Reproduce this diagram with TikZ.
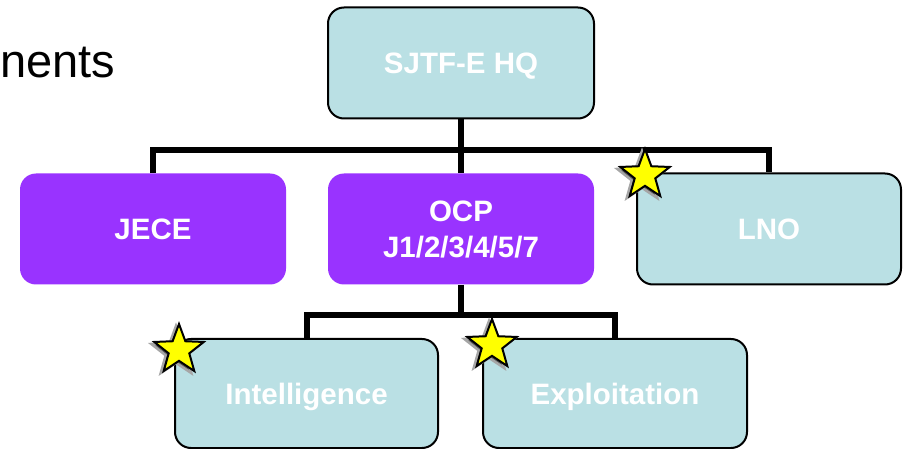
\documentclass[tikz,border=0pt]{standalone}
\usepackage{fontspec}
\setmainfont{Liberation Sans}
\usetikzlibrary{shapes.geometric,backgrounds}
\definecolor{boxcyan}{RGB}{186,224,228}
\definecolor{boxpurple}{RGB}{153,51,255}
\definecolor{staryellow}{RGB}{255,255,0}
\tikzset{
  unitbox/.style={rectangle, rounded corners=16pt, minimum width=266pt, minimum height=111pt,
    text=white, font=\bfseries\fontsize{29.5}{36}\selectfont, align=center, inner sep=0pt,
    text height=21pt, text depth=0pt},
  cyanbox/.style={unitbox, fill=boxcyan, draw=black, line width=2pt},
  purplebox/.style={unitbox, fill=boxpurple, draw=none},
  link/.style={draw=black, line width=6pt},
  starmark/.style={star, star points=5, star point ratio=2.4, minimum size=52pt, inner sep=0pt},
  starshade/.style={starmark, fill=black!65, draw=black!35, line width=2.5pt},
  starfront/.style={starmark, fill=staryellow, draw=black, line width=2pt},
}
\begin{document}
\begin{tikzpicture}[x=1pt,y=-1pt]
\useasboundingbox (0,0) rectangle (906,449);
% text at top left
\node[anchor=base west, inner sep=0pt, font=\fontsize{47}{56}\selectfont] (hdr) at (0,78) {nents};
% boxes
\node[cyanbox] (hq) at (461,63) {SJTF-E HQ};
\node[purplebox] (jece) at (153,229) {JECE};
\node[purplebox, text height=57pt] (ocp) at (461,229) {OCP\\[0pt]J1/2/3/4/5/7};
\node[cyanbox, minimum width=264pt] (lno) at (769,229) {LNO};
\node[cyanbox, minimum width=263pt, minimum height=109pt] (intel) at (306.5,393.5) {Intelligence};
\node[cyanbox, minimum width=264pt, minimum height=109pt] (expl) at (615,393.5) {Exploitation};
% connectors
\coordinate (b1) at (461,150);
\coordinate (b2) at (461,315);
\begin{scope}[on background layer]
\draw[link] (hq.south) -- (b1);
\draw[link] (jece.north) |- (b1) -| (lno.north);
\draw[link] (b1) -- (ocp.north);
\draw[link] (ocp.south) -- (b2);
\draw[link] (intel.north) |- (b2) -| (expl.north);
\end{scope}
% stars
\node[starshade] (s1s) at (642,177) {};
\node[starfront] (s1) at (645,175) {};
\node[starshade] (s2s) at (176,352) {};
\node[starfront] (s2) at (179,350) {};
\node[starshade] (s3s) at (489,347) {};
\node[starfront] (s3) at (492,345) {};
\end{tikzpicture}
\end{document}
